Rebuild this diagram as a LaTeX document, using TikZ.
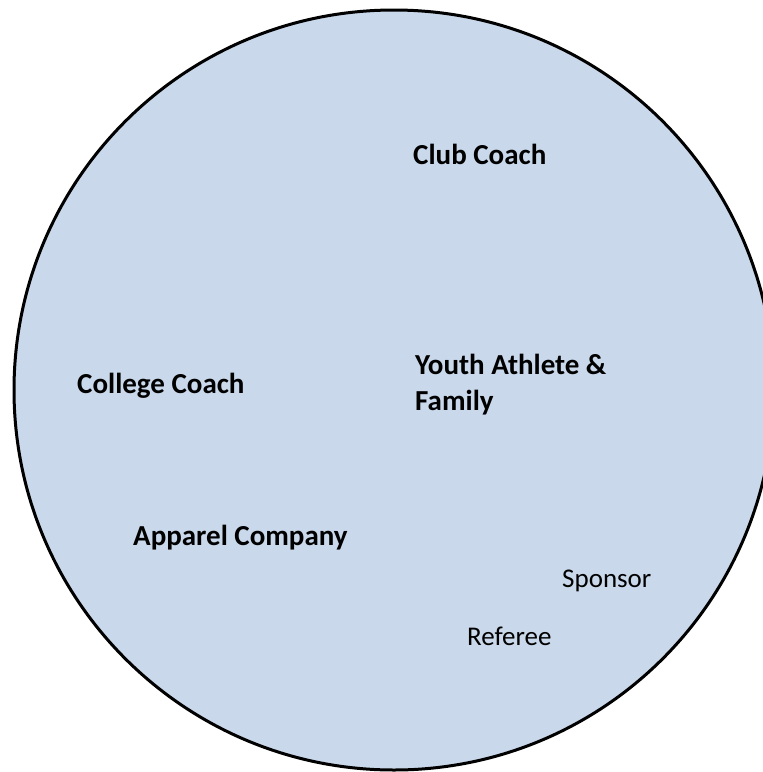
\documentclass[tikz,border=0pt]{standalone}
\usepackage{fontspec}
\setmainfont{Carlito}
\usepackage{tikz}
\usepackage{xcolor}
\usetikzlibrary{positioning}
\definecolor{circfill}{RGB}{201,217,235}
\tikzset{%
	ring/.style  = {draw=black, fill=circfill, line width=3pt},
	major/.style = {anchor=base west, inner sep=0pt, align=left, font=\fontsize{29}{35.5}\selectfont\bfseries},
	minor/.style = {anchor=base west, inner sep=0pt, font=\fontsize{27}{33}\selectfont},
}
\begin{document}
\begin{tikzpicture}[x=1pt,y=-1pt]
	\useasboundingbox (0,0) rectangle (763,772);
	\clip (0,0) rectangle (763,772);
	\draw[ring] (394,390) circle (380pt);  % the circle
	
	\node[major] (club) at (413,164) {Club Coach};
	\node[major] (youth) at (415,410) {Youth Athlete \&\\Family}; % base = last line
	\node[major] (college) at (77,393) {College Coach};
	\node[major] (apparel) at (133,545) {Apparel Company};
	\node[minor] (sponsor) at (562,587) {Sponsor};
	\node[minor] (referee) at (467,645) {Referee};
	
\end{tikzpicture}
\end{document}
